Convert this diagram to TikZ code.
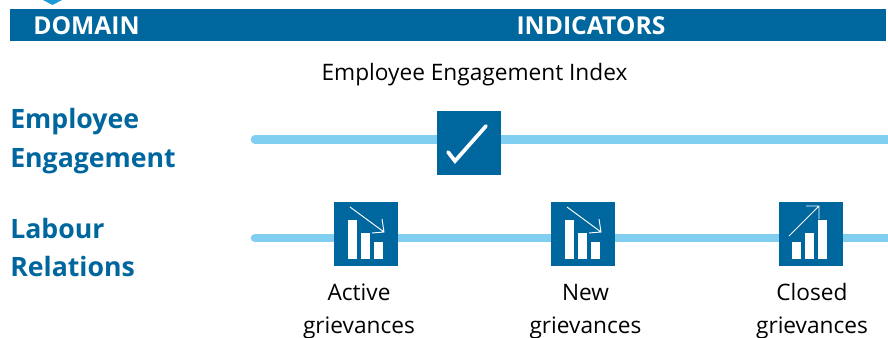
\documentclass[tikz,border=0pt]{standalone}
\usepackage{fontspec}
\setmainfont{Open Sans}
\definecolor{mainblue}{HTML}{00679E}
\definecolor{trackblue}{HTML}{80CFF1}
\definecolor{tipblue}{HTML}{1A9BD7}
\tikzset{
	track/.style = {trackblue, line width = 6.4pt, line cap = round},
	iconbox/.style = {fill = mainblue, minimum size = 48pt, inner sep = 0pt},
	headtext/.style = {white, font = \fontsize{18.5}{20}\selectfont\bfseries},
	domaintext/.style = {mainblue, anchor = base west, inner sep = 0pt, font = \fontsize{20}{22}\selectfont\bfseries},
	plaintext/.style = {black, align = center, font = \fontsize{17}{24.75}\selectfont},
	iconbar/.style = {white, fill = white},
	iconarrow/.style = {white, line width = 0.7pt}
}
\begin{document}
\begin{tikzpicture}[x = 0.75pt, y = -0.75pt]
		\useasboundingbox (0,0) rectangle (888,337);

		%--------------------
		\fill[tipblue] (43,0) -- (62,0) -- (52.5,5) -- cycle;
		\node[fill = mainblue, minimum width = 657pt, minimum height = 24pt, inner sep = 0pt, anchor = north west] (headbar) at (10,9) {};
		\node[headtext] (domainhead) at (86.5,26) {DOMAIN};
		\node[headtext] (indicatorhead) at (591,26) {INDICATORS};

		%--------------------
		\node[plaintext] (indexlabel) at (474.5,75) {Employee Engagement Index};
		\node[domaintext] (engageA) at (10,128) {Employee};
		\node[domaintext] (engageB) at (10,167) {Engagement};
		\node[domaintext] (labourA) at (10,238) {Labour};
		\node[domaintext] (labourB) at (10,276) {Relations};

		%--------------------
		\coordinate (engagestart) at (255,139.5);
		\coordinate (engageend) at (900,139.5);
		\coordinate (labourstart) at (255,238);
		\coordinate (labourend) at (900,238);
		\draw[track] (engagestart) -- (engageend);
		\draw[track] (labourstart) -- (labourend);

		%--------------------
		\node[iconbox] (check) at (469,143) {};
		\draw[white, line width = 2.8pt, line cap = round] (448,152) -- (455,161) -- (486,126);

		%--------------------
		\foreach \myname/\myx in {active/366, new/583} {
			\node[iconbox] (\myname) at (\myx,234) {};
			\begin{scope}[shift = {(\myx,234)}]
				\fill[iconbar] (-18,25) rectangle (-9,-14);
				\fill[iconbar] (-5,25) rectangle (4,-1);
				\fill[iconbar] (8,25) rectangle (17,8);
				\draw[iconarrow] (-16,-27) -- (18,-2) (16,-15) -- (18,-2) -- (6,-1);
			\end{scope}
		}

		\node[iconbox] (closed) at (811,234) {};
		\begin{scope}[shift = {(811,234)}]
			\fill[iconbar] (-19,25) rectangle (-10,8);
			\fill[iconbar] (-6,25) rectangle (3,-1);
			\fill[iconbar] (7,25) rectangle (16,-14);
			\draw[iconarrow] (-22,2) -- (8,-28) (-5,-28) -- (8,-28) -- (8,-15);
		\end{scope}

		%--------------------
		\node[plaintext] (activelabel) at (359,311) {Active\\grievances};
		\node[plaintext] (newlabel) at (585.5,312) {New\\grievances};
		\node[plaintext] (closedlabel) at (812,311) {Closed\\grievances};
\end{tikzpicture}
\end{document}
